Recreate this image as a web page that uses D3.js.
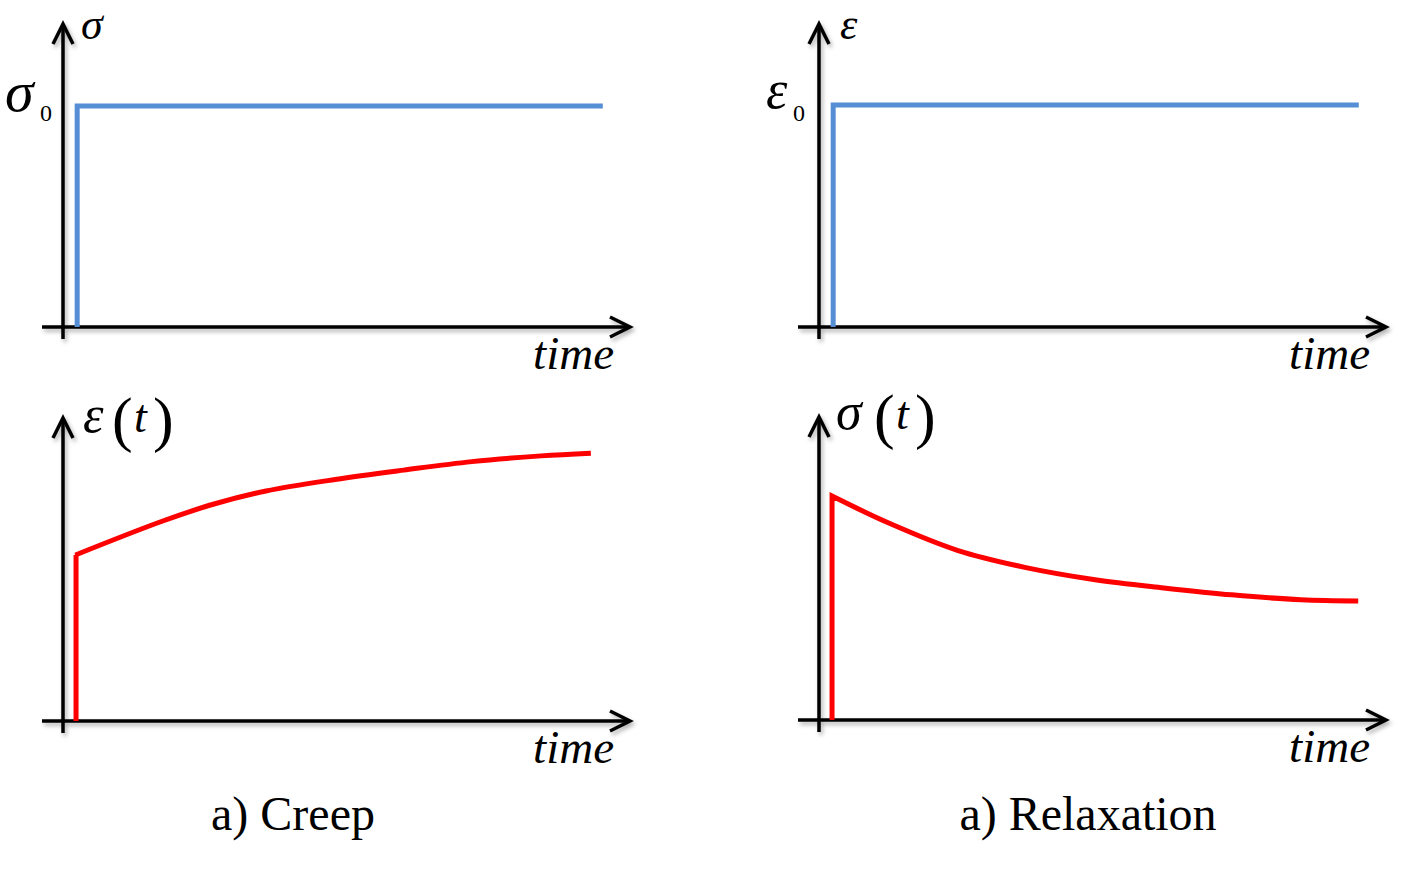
<!DOCTYPE html>
<html>
<head>
<meta charset="utf-8">
<script src="https://cdn.jsdelivr.net/npm/d3@7"></script>
<style>
  html, body { margin: 0; padding: 0; background: #fff; }
  svg { display: block; }
</style>
</head>
<body>
<svg id="chart" width="1413" height="874"></svg>
<script>
// ---- data (normalised time 0..1, normalised value 0..1) ----
const stressInputT = [0.025, 0.025, 0.952];
const stressInputV = [0, 0.729, 0.729];
const strainInputT = [0.025, 0.025, 0.952];
const strainInputV = [0, 0.733, 0.733];

const creepStepT = 0.023;
const creepT = [0.022, 0.176, 0.268, 0.358, 0.480, 0.601, 0.721, 0.843, 0.931];
const creepV = [0.548, 0.660, 0.717, 0.759, 0.797, 0.828, 0.856, 0.875, 0.884];

const relaxStepT = 0.023;
const relaxT = [0.023, 0.123, 0.244, 0.365, 0.487, 0.608, 0.728, 0.850, 0.951];
const relaxV = [0.739, 0.650, 0.560, 0.503, 0.463, 0.436, 0.413, 0.397, 0.393];

const xLabel = "time";
const captions = ["a) Creep", "a) Relaxation"];

// ---- drawing ----
const FONT = "'Times New Roman', 'Liberation Serif', Times, serif";
const svg = d3.select("#chart");
const defs = svg.append("defs");
const f = defs.append("filter").attr("id", "shadow")
  .attr("x", "-10%").attr("y", "-10%").attr("width", "120%").attr("height", "130%");
f.append("feDropShadow").attr("dx", 2).attr("dy", 3).attr("stdDeviation", 2)
  .attr("flood-color", "#000").attr("flood-opacity", 0.3);

const W = 567, H = 303;
const panels = [
  { ox: 63,  oy: 327 },
  { ox: 819, oy: 327 },
  { ox: 63,  oy: 721 },
  { ox: 819, oy: 720 }
];
panels.forEach(p => {
  p.x = d3.scaleLinear().domain([0, 1]).range([p.ox, p.ox + W]);
  p.y = d3.scaleLinear().domain([0, 1]).range([p.oy, p.oy - H]);
});

function drawAxes(p) {
  const g = svg.append("g").attr("filter", "url(#shadow)")
    .attr("stroke", "#000").attr("stroke-width", 3.5).attr("fill", "none");
  const x0 = p.x(0), x1 = p.x(1), y0 = p.y(0), y1 = p.y(1);
  g.append("line").attr("x1", x0 - 21).attr("x2", x1).attr("y1", y0).attr("y2", y0);
  g.append("line").attr("x1", x0).attr("x2", x0).attr("y1", y0 + 12).attr("y2", y1);
  g.append("path").attr("d", `M${x1 - 20},${y0 - 10} L${x1},${y0} L${x1 - 20},${y0 + 10}`)
    .attr("stroke-linejoin", "miter");
  g.append("path").attr("d", `M${x0 - 10},${y1 + 20} L${x0},${y1} L${x0 + 10},${y1 + 20}`)
    .attr("stroke-linejoin", "miter");
}
panels.forEach(drawAxes);

// input step lines (blue)
function stepLine(p, T, V) {
  const line = d3.line().x((d, i) => p.x(T[i])).y((d, i) => p.y(V[i]));
  svg.append("path").attr("d", line(T))
    .attr("fill", "none").attr("stroke", "#558ED5").attr("stroke-width", 5)
    .attr("stroke-linejoin", "miter");
}
stepLine(panels[0], stressInputT, stressInputV);
stepLine(panels[1], strainInputT, strainInputV);

// response curves (red)
function responseCurve(p, stepT, T, V) {
  const pts = T.map((t, i) => [p.x(t), p.y(V[i])]);
  const curve = d3.line().curve(d3.curveCatmullRom.alpha(0.5))(pts);
  const d = `M${p.x(stepT)},${p.y(0)} L${p.x(stepT)},${pts[0][1]} L` + curve.slice(1);
  svg.append("path").attr("d", d)
    .attr("fill", "none").attr("stroke", "#FF0000").attr("stroke-width", 5)
    .attr("stroke-linejoin", "miter");
}
responseCurve(panels[2], creepStepT, creepT, creepV);
responseCurve(panels[3], relaxStepT, relaxT, relaxV);

function sym(x, y, s, size, italic, anchor) {
  svg.append("text").attr("x", x).attr("y", y)
    .attr("font-family", FONT).attr("font-size", size)
    .attr("font-style", italic ? "italic" : "normal")
    .attr("text-anchor", anchor || "start").attr("fill", "#000").text(s);
}

// x labels
panels.forEach(p => sym(p.x(1) - 16, p.oy + 42, xLabel, 47, true, "end"));

// top-left: sigma, sigma_0
sym(81, 39, "σ", 44, true);
sym(5, 111, "σ", 58, true);
sym(40, 121, "0", 24, false);
// top-right: epsilon, epsilon_0
sym(840, 39, "ε", 44, true);
sym(766, 108, "ε", 54, true);
sym(793, 121, "0", 24, false);
// bottom-left: epsilon(t)
sym(83, 432, "ε", 52, true);
sym(112, 440, "(", 62, false);
sym(134, 432, "t", 46, true);
sym(153, 440, ")", 62, false);
// bottom-right: sigma(t)
sym(836, 429, "σ", 52, true);
sym(874, 437, "(", 62, false);
sym(896, 429, "t", 46, true);
sym(915, 437, ")", 62, false);

// captions
sym(293, 830, captions[0], 48, false, "middle");
sym(1088, 830, captions[1], 48, false, "middle");
</script>
</body>
</html>
